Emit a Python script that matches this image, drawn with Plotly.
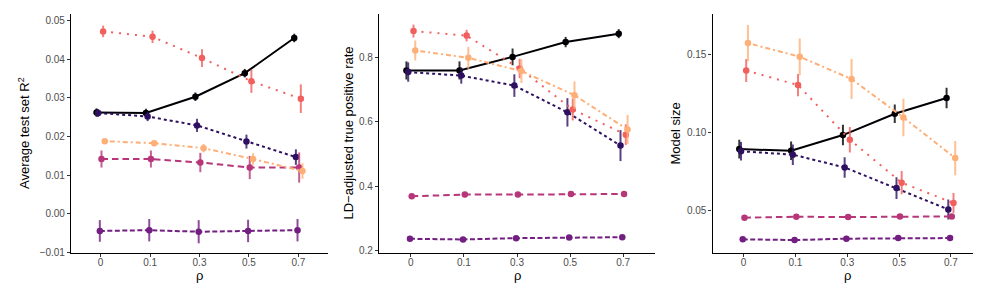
import plotly.graph_objects as go

rho_labels = ["0", "0.1", "0.3", "0.5", "0.7"]
series_names = ["S1", "S2", "S3", "S4", "S5", "S6"]
colors = ["#000004", "#2D1160", "#721F81", "#B63679", "#F1605D", "#FEAF77"]
err_colors = ["rgba(0,0,4,0.8)", "rgba(45,17,96,0.8)", "rgba(114,31,129,0.8)",
              "rgba(182,54,121,0.8)", "rgba(241,96,93,0.8)", "rgba(254,175,119,0.8)"]
dashes = ["solid", "3px,3px", "5px,2.5px", "6.5px,4px", "2px,6px",
          "2px,3px,5px,3px"]

# Panel 1: Average test set R^2
r2_vals = [
    [0.0262, 0.0261, 0.0303, 0.0364, 0.0455],
    [0.0261, 0.0252, 0.0229, 0.0187, 0.0147],
    [-0.0044, -0.0042, -0.0046, -0.0044, -0.0042],
    [0.0142, 0.0142, 0.0133, 0.0120, 0.0120],
    [0.0472, 0.0458, 0.0403, 0.0343, 0.0298],
    [0.0188, 0.0183, 0.0170, 0.0142, 0.0111],
]
r2_err = [
    [0.0011, 0.0011, 0.0011, 0.0011, 0.0011],
    [0.0010, 0.0012, 0.0017, 0.0018, 0.0020],
    [0.0028, 0.0029, 0.0030, 0.0029, 0.0029],
    [0.0022, 0.0022, 0.0025, 0.0030, 0.0039],
    [0.0015, 0.0016, 0.0023, 0.0030, 0.0037],
    [0.0006, 0.0007, 0.0011, 0.0015, 0.0020],
]

# Panel 2: LD-adjusted true positive rate
tpr_vals = [
    [0.759, 0.759, 0.801, 0.847, 0.873],
    [0.754, 0.743, 0.712, 0.629, 0.526],
    [0.237, 0.235, 0.239, 0.241, 0.242],
    [0.369, 0.374, 0.374, 0.376, 0.376],
    [0.881, 0.867, 0.765, 0.638, 0.560],
    [0.821, 0.798, 0.757, 0.682, 0.576],
]
tpr_err = [
    [0.028, 0.028, 0.026, 0.016, 0.014],
    [0.030, 0.025, 0.035, 0.044, 0.048],
    [0.005, 0.005, 0.005, 0.005, 0.005],
    [0.008, 0.008, 0.008, 0.008, 0.009],
    [0.020, 0.018, 0.030, 0.034, 0.032],
    [0.031, 0.034, 0.037, 0.043, 0.045],
]

# Panel 3: Model size
size_vals = [
    [0.0894, 0.0883, 0.0984, 0.1121, 0.1222],
    [0.0880, 0.0858, 0.0776, 0.0643, 0.0506],
    [0.0314, 0.0309, 0.0318, 0.0322, 0.0322],
    [0.0453, 0.0459, 0.0457, 0.0461, 0.0461],
    [0.1399, 0.1305, 0.0954, 0.0678, 0.0547],
    [0.1575, 0.1487, 0.1344, 0.1097, 0.0836],
]
size_err = [
    [0.0060, 0.0060, 0.0066, 0.0060, 0.0066],
    [0.0060, 0.0066, 0.0066, 0.0070, 0.0064],
    [0.0008, 0.0008, 0.0008, 0.0008, 0.0008],
    [0.0010, 0.0010, 0.0010, 0.0010, 0.0010],
    [0.0074, 0.0072, 0.0082, 0.0075, 0.0064],
    [0.0116, 0.0118, 0.0128, 0.0120, 0.0110],
]

panels = [
    (r2_vals, r2_err, "Average test set R<sup>2</sup>", [-0.0101, 0.0517], [-0.01, 0.0, 0.01, 0.02, 0.03, 0.04, 0.05], ".2f"),
    (tpr_vals, tpr_err, "LD\u2212adjusted true positive rate", [0.193, 0.934], [0.2, 0.4, 0.6, 0.8], ".1f"),
    (size_vals, size_err, "Model size", [0.0226, 0.1762], [0.05, 0.10, 0.15], ".2f"),
]

W, H = 981, 285
xdoms = [[63 / W, 320 / W], [371 / W, 647 / W], [704.5 / W, 974 / W]]
title_x = [15.5, 340, 667]

dodge_width = 0.2
n = len(series_names)
offsets = [(i - (n - 1) / 2) * dodge_width / n for i in range(n)]

fig = go.Figure()
font = "Liberation Sans, Arial, sans-serif"
annotations = []
for p, (vals, errs, ytitle, yr, ytv, yfmt) in enumerate(panels):
    xa = "x" if p == 0 else f"x{p+1}"
    ya = "y" if p == 0 else f"y{p+1}"
    for i in range(n):
        xs = [k + offsets[i] for k in range(len(rho_labels))]
        fig.add_trace(go.Scatter(
            x=xs, y=vals[i], xaxis=xa, yaxis=ya, mode="lines+markers",
            name=series_names[i], showlegend=False,
            line=dict(color=colors[i], width=2, dash=dashes[i]),
            marker=dict(color=colors[i], size=6.5),
            error_y=dict(type="data", array=errs[i], visible=True, width=0,
                         thickness=2, color=err_colors[i]),
        ))
    axkey = "xaxis" if p == 0 else f"xaxis{p+1}"
    aykey = "yaxis" if p == 0 else f"yaxis{p+1}"
    fig.layout[axkey] = dict(
        domain=xdoms[p], anchor=ya, range=[-0.6, 4.6],
        tickmode="array", tickvals=list(range(len(rho_labels))), ticktext=rho_labels,
        showgrid=False, zeroline=False, showline=True, linecolor="black", linewidth=1.1,
        ticks="outside", ticklen=3, tickcolor="#333333", tickwidth=1,
        ticklabelstandoff=-3,
        tickfont=dict(size=10, color="#4D4D4D", family=font),
    )
    fig.layout[aykey] = dict(
        domain=[0, 1], anchor=xa, range=yr,
        tickmode="array", tickvals=ytv, tickformat=yfmt,
        showgrid=False, zeroline=False, showline=True, linecolor="black", linewidth=1.1,
        ticks="outside", ticklen=3, tickcolor="#333333", tickwidth=1,
        tickfont=dict(size=10, color="#4D4D4D", family=font),
    )
    annotations.append(dict(
        text=ytitle, x=title_x[p] / W, y=0.5, xref="paper", yref="paper",
        textangle=-90, showarrow=False, xanchor="center", yanchor="middle",
        font=dict(size=13, color="black", family=font),
    ))
    annotations.append(dict(
        text="\u03c1", x=sum(xdoms[p]) / 2, y=1 - (267 - 6) / 239, xref="paper", yref="paper",
        showarrow=False, xanchor="center", yanchor="middle",
        font=dict(size=13, color="black", family=font),
    ))

fig.update_layout(
    width=W, height=H, margin=dict(l=0, r=0, t=6, b=40),
    paper_bgcolor="white", plot_bgcolor="white",
    annotations=annotations, showlegend=False,
)
fig.write_html("out.html")
